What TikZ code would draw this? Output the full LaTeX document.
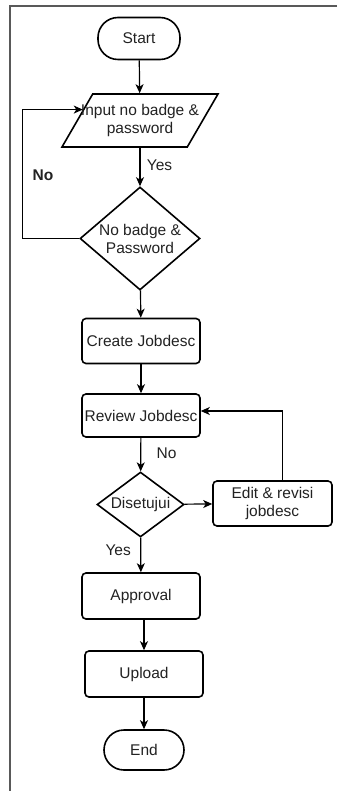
\documentclass[tikz,border=0pt]{standalone}
\usepackage{fontspec}
\setmainfont{Liberation Sans}
\usetikzlibrary{shapes.geometric,arrows.meta,calc}
\definecolor{txt}{HTML}{222222}
\begin{document}
\begin{tikzpicture}[x=1pt,y=-1pt,
  lbl/.style={font=\fontsize{15.5}{18}\selectfont,text=txt,align=center},
  shp/.style={draw,line width=1.6pt,inner sep=0pt,lbl},
  box/.style={shp,rounded corners=4pt,minimum width=118pt,minimum height=45pt},
  term/.style={shp,minimum width=#1,minimum height=42pt,rounded corners=20pt},
  dia/.style={shp,diamond},
  arr/.style={line width=1.2pt,-{Stealth[length=9pt,width=8pt,inset=2.5pt]}}
]
\useasboundingbox (0,0) rectangle (337,791);
\draw[black!65,line width=1.3pt] (337,6) -- (10,6) -- (10,791);

\node[term=82pt] (start) at (139,38.5) {Start};
\node[shp,inner sep=2pt,trapezium,trapezium left angle=72,trapezium right angle=108,
      trapezium stretches=true,minimum width=156pt,minimum height=53pt] (input) at (140,120.5) {};
\node[lbl] (inputt) at (140,120.5) {Input no badge \&\\password};
\node[dia,minimum width=120pt,minimum height=103pt] (d1) at (140,238.5) {};
\node[lbl] (d1t) at (140,238.5) {No badge \&\\Password};
\node[box] (create) at (141,341) {Create Jobdesc};
\node[box,minimum height=43pt] (review) at (141,415.5) {Review Jobdesc};
\node[dia,minimum width=87pt,minimum height=65pt] (dis) at (140.5,504.5) {};
\node[lbl] (dist) at (140.5,504.5) {Disetujui};
\node[box,minimum width=119pt] (edit) at (272.5,503.5) {Edit \& revisi\\jobdesc};
\node[box,minimum height=46pt] (approval) at (141,596) {Approval};
\node[box,minimum height=46pt] (upload) at (144,674) {Upload};
\node[term=80pt,minimum height=40pt] (end) at (144,750) {End};

\coordinate (inL) at ($(input.bottom left corner)!0.7!(input.top left corner)$);

\draw[arr] (start) -- (input);
\draw[arr] (input) -- node[lbl,right,xshift=3pt,pos=0.45] (yes1) {Yes} (d1);
\draw[arr] (d1.west) -- ++(-57,0) |- (inL);
\node[lbl,font=\fontsize{15.5}{18}\selectfont\bfseries] (no1) at (43,175) {No};
\draw[arr] (d1) -- (create);
\draw[arr] (create) -- (review);
\draw[arr] (review) -- node[lbl,right,xshift=12pt,pos=0.45] (no2) {No} (dis);
\draw[arr] (dis) -- (edit);
\draw[arr] ([xshift=10pt]edit.north) |- ([yshift=4.5pt]review.east);
\draw[arr] (dis) -- node[lbl,left,xshift=-6pt,pos=0.35] (yes2) {Yes} (approval);
\draw[arr] (approval.south) -- (approval.south -| upload.north) -- (upload.north);
\draw[arr] (upload) -- (end);
\end{tikzpicture}
\end{document}
